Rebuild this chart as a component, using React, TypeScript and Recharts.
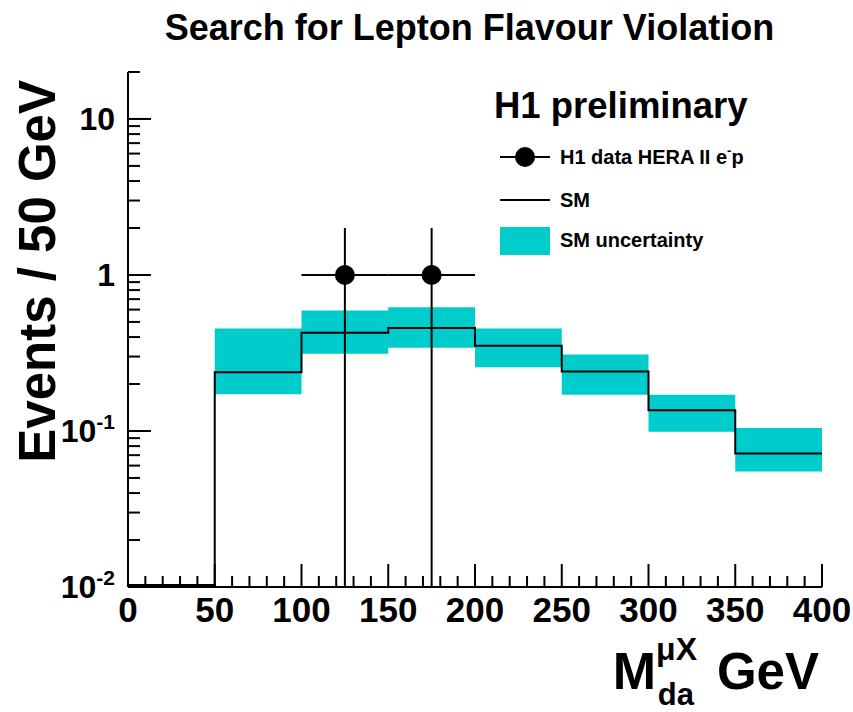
import { ComposedChart, Line, Area, Scatter, ErrorBar, XAxis, YAxis, Legend } from 'recharts'

const FONT = '"Liberation Sans", Arial, Helvetica, sans-serif'
const BAND = '#00CCCC'

// SM histogram, bins of 50 GeV
const binEdges = [0, 50, 100, 150, 200, 250, 300, 350, 400]
const smValues = [0.0103, 0.238, 0.426, 0.458, 0.352, 0.241, 0.136, 0.0716]
const smLow = [null, 0.172, 0.313, 0.341, 0.256, 0.171, 0.099, 0.055]
const smHigh = [null, 0.454, 0.591, 0.621, 0.454, 0.309, 0.171, 0.1045]

// H1 data points
const dataMass = [125, 175]
const dataEvents = [1, 1]
const dataMassErr = [25, 25]
const dataEventsErr = [1, 1]

const Y_MIN = 0.01
const Y_MAX = 20

const xMajorTicks = [0, 50, 100, 150, 200, 250, 300, 350, 400]
const xTicks = [
  0, 10, 20, 30, 40, 50, 60, 70, 80, 90, 100, 110, 120, 130, 140, 150, 160, 170, 180, 190, 200,
  210, 220, 230, 240, 250, 260, 270, 280, 290, 300, 310, 320, 330, 340, 350, 360, 370, 380, 390, 400,
]
const yTicks = [
  0.01, 0.02, 0.03, 0.04, 0.05, 0.06, 0.07, 0.08, 0.09,
  0.1, 0.2, 0.3, 0.4, 0.5, 0.6, 0.7, 0.8, 0.9,
  1, 2, 3, 4, 5, 6, 7, 8, 9,
  10, 20,
]
const yMajorLabels: Record<string, [string, string]> = {
  '0.01': ['10', '-2'],
  '0.1': ['10', '-1'],
  '1': ['1', ''],
  '10': ['10', ''],
}

const histTable = binEdges.map((x, i) => {
  const b = Math.min(i, smValues.length - 1)
  return {
    x,
    sm: smValues[b],
    band: smLow[b] == null ? null : [smLow[b], smHigh[b]],
  }
})

const pointTable = dataMass.map((x, i) => ({
  x,
  y: dataEvents[i],
  xErr: dataMassErr[i],
  yErr: [Math.min(dataEventsErr[i], dataEvents[i] - Y_MIN), dataEventsErr[i]],
}))

function XTick(props: any) {
  const { x, y, payload } = props
  const major = xMajorTicks.includes(payload.value)
  return (
    <g>
      <line x1={x} x2={x} y1={y} y2={y - (major ? 23 : 11)} stroke="#000" strokeWidth={2} />
      {major && (
        <text x={x} y={y + 35} textAnchor="middle" fontSize={35} fontWeight="bold" fontFamily={FONT} fill="#000">
          {payload.value}
        </text>
      )}
    </g>
  )
}

function YTick(props: any) {
  const { x, y, payload } = props
  const label = yMajorLabels[String(payload.value)]
  return (
    <g>
      <line x1={x} x2={x + (label ? 23 : 12)} y1={y} y2={y} stroke="#000" strokeWidth={2} />
      {label && (
        <text x={x - 13} y={y + 11} textAnchor="end" fontSize={32} fontWeight="bold" fontFamily={FONT} fill="#000">
          {label[0]}
          {label[1] && (
            <tspan dy={-13} fontSize={21}>
              {label[1]}
            </tspan>
          )}
        </text>
      )}
    </g>
  )
}

function YTitle(props: any) {
  const { viewBox } = props
  const x = viewBox.x + 27
  const y = viewBox.y + 8
  return (
    <text
      x={x}
      y={y}
      transform={`rotate(-90 ${x} ${y})`}
      textAnchor="end"
      fontSize={51}
      fontWeight="bold"
      fontFamily={FONT}
      fill="#000"
    >
      Events / 50 GeV
    </text>
  )
}

function XTitle(props: any) {
  const { viewBox } = props
  const right = viewBox.x + viewBox.width - 3
  const base = 689
  return (
    <g fontWeight="bold" fontFamily={FONT} fill="#000">
      <text x={right} y={base} textAnchor="end" fontSize={51}>
        GeV
      </text>
      <text x={right - 122} y={base - 29} textAnchor="end" fontSize={32}>
        μX
      </text>
      <text x={right - 125} y={base + 16} textAnchor="end" fontSize={31}>
        da
      </text>
      <text x={right - 163} y={base} textAnchor="end" fontSize={52}>
        M
      </text>
    </g>
  )
}

function LegendBox() {
  return (
    <svg width={340} height={180} style={{ display: 'block' }}>
      <g fontFamily={FONT} fontWeight="bold" fill="#000">
        <text x={14} y={38} fontSize={36.5}>
          H1 preliminary
        </text>
        <line x1={20} x2={70} y1={77} y2={77} stroke="#000" strokeWidth={2} />
        <circle cx={45} cy={77} r={10} fill="#000" />
        <text x={80} y={84} fontSize={20}>
          H1 data HERA II e
          <tspan dy={-9} fontSize={13}>
            -
          </tspan>
          <tspan dy={9}>p</tspan>
        </text>
        <line x1={20} x2={70} y1={120} y2={120} stroke="#000" strokeWidth={2} />
        <text x={80} y={127} fontSize={20}>
          SM
        </text>
        <rect x={20} y={147} width={50} height={28} fill={BAND} />
        <text x={80} y={167} fontSize={20}>
          SM uncertainty
        </text>
      </g>
    </svg>
  )
}

export default function App() {
  return (
    <div style={{ position: 'relative', width: 853, height: 712, background: '#fff' }}>
      <style>{'body{margin:0}'}</style>
      <div
        style={{
          position: 'absolute',
          top: 10,
          left: 43,
          width: 853,
          textAlign: 'center',
          fontFamily: FONT,
          fontWeight: 'bold',
          fontSize: 36,
          lineHeight: '36px',
          color: '#000',
          zIndex: 2,
          whiteSpace: 'nowrap',
        }}
      >
        Search for Lepton Flavour Violation
      </div>
      <ComposedChart width={853} height={712} data={histTable} margin={{ top: 72, right: 31, bottom: 85, left: 28 }}>
        <XAxis
          type="number"
          dataKey="x"
          domain={[0, 400]}
          ticks={xTicks}
          interval={0}
          allowDataOverflow
          tickLine={false}
          tickSize={0}
          tickMargin={0}
          tick={XTick}
          height={40}
          axisLine={{ stroke: '#000', strokeWidth: 2 }}
          label={{ content: XTitle }}
        />
        <XAxis
          xAxisId="top"
          orientation="top"
          type="number"
          domain={[0, 400]}
          tick={false}
          tickLine={false}
          height={0}
          axisLine={{ stroke: '#000', strokeWidth: 2 }}
        />
        <YAxis
          type="number"
          scale="log"
          domain={[Y_MIN, Y_MAX]}
          ticks={yTicks}
          interval={0}
          allowDataOverflow
          tickLine={false}
          tickSize={0}
          tickMargin={0}
          tick={YTick}
          width={100}
          axisLine={{ stroke: '#000', strokeWidth: 2 }}
          label={{ content: YTitle }}
        />
        <YAxis
          yAxisId="right"
          orientation="right"
          type="number"
          domain={[0, 1]}
          tick={false}
          tickLine={false}
          width={0}
          axisLine={{ stroke: '#000', strokeWidth: 2 }}
        />
        <Legend
          content={LegendBox}
          layout="horizontal"
          verticalAlign="middle"
          align="center"
          wrapperStyle={{ top: 80, left: 480, width: 340, height: 180 }}
        />
        <Area
          type="stepAfter"
          dataKey="band"
          stroke="none"
          fill={BAND}
          fillOpacity={1}
          isAnimationActive={false}
          activeDot={false}
        />
        <Line
          type="stepAfter"
          dataKey="sm"
          stroke="#000"
          strokeWidth={2}
          dot={false}
          activeDot={false}
          isAnimationActive={false}
        />
        <Scatter
          data={pointTable}
          dataKey="y"
          isAnimationActive={false}
          shape={(p: any) => <circle cx={p.cx} cy={p.cy} r={10} fill="#000" />}
        >
          <ErrorBar dataKey="xErr" direction="x" width={0} stroke="#000" strokeWidth={2} />
          <ErrorBar dataKey="yErr" direction="y" width={0} stroke="#000" strokeWidth={2} />
        </Scatter>
      </ComposedChart>
    </div>
  )
}
